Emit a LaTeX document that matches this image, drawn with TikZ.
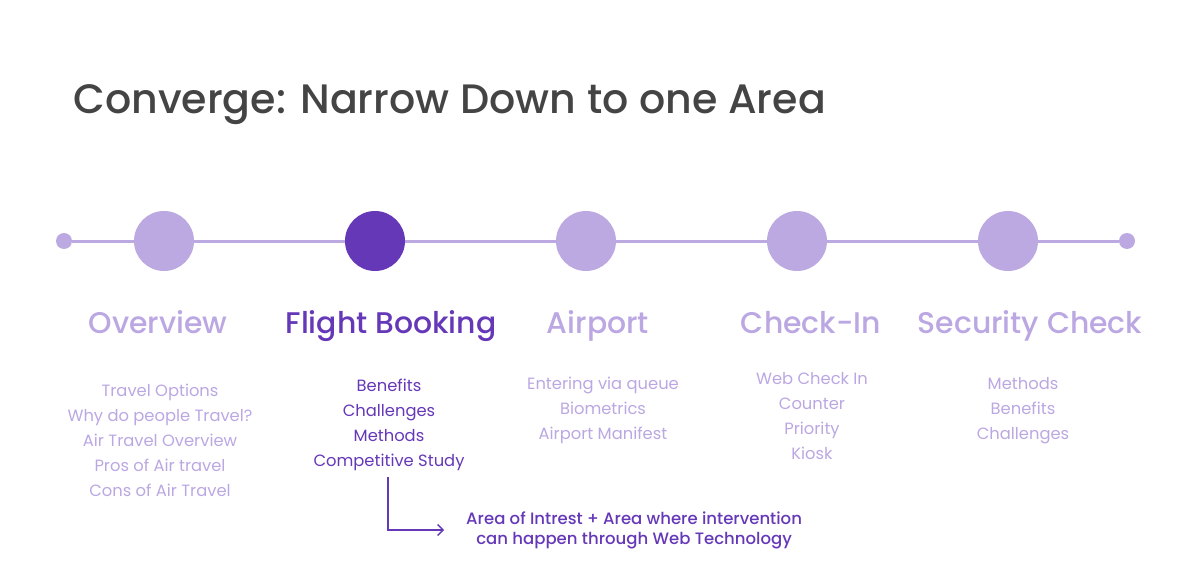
\documentclass[tikz,border=0pt]{standalone}
\usepackage{fontspec}
\setmainfont{Poppins}
\newfontfamily\medfont{Poppins Medium}
\usetikzlibrary{arrows.meta}

\definecolor{lilac}{HTML}{BCA9E1}
\definecolor{lilactext}{HTML}{BBA7E2}
\definecolor{grape}{HTML}{6538B8}
\definecolor{titlegray}{HTML}{444444}

\tikzset{
  stage/.style={circle, fill=lilac, minimum size=60*0.02cm, inner sep=0pt},
  stagedot/.style={circle, fill=lilac, minimum size=16*0.02cm, inner sep=0pt},
  heading/.style={text=lilactext, font=\medfont\fontsize{17}{20}\selectfont, anchor=base},
  items/.style={text=lilactext, font=\fontsize{9.3}{14.2}\selectfont, align=center, anchor=north},
}

\begin{document}
\begin{tikzpicture}[x=0.02cm, y=-0.02cm, >=Straight Barb]
  \useasboundingbox (0,0) rectangle (1191,581);

  % Title
  \node[anchor=base west, text=titlegray, font=\medfont\fontsize{23.4}{28}\selectfont, inner sep=0pt] (title) at (73,114) {Converge: Narrow Down to one Area};

  % Timeline
  \node[stagedot] (start) at (64,241) {};
  \node[stagedot] (end) at (1127,241) {};
  \draw[lilac, line width=3*0.02cm] (start) -- (end);

  \node[stage] (overview) at (164,241) {};
  \node[stage, fill=grape] (booking) at (375,241) {};
  \node[stage] (airport) at (586,241) {};
  \node[stage] (checkin) at (797,241) {};
  \node[stage] (security) at (1008,241) {};

  % Stage headings
  \node[heading] (overviewh) at (158,333) {Overview};
  \node[heading, text=grape] (bookingh) at (391,333) {Flight Booking};
  \node[heading] (airporth) at (598,333) {Airport};
  \node[heading] (checkinh) at (811,333) {Check-In};
  \node[heading] (securityh) at (1030,333) {Security Check};

  % Stage topics
  \node[items] (overviewl) at (160,378) {Travel Options\\Why do people Travel?\\Air Travel Overview\\Pros of Air travel\\Cons of Air Travel};
  \node[items, text=grape] (bookingl) at (389,373) {Benefits\\Challenges\\Methods\\Competitive Study};
  \node[items] (airportl) at (603,371) {Entering via queue\\Biometrics\\Airport Manifest};
  \node[items] (checkinl) at (812,366) {Web Check In\\Counter\\Priority\\Kiosk};
  \node[items] (securityl) at (1023,371) {Methods\\Benefits\\Challenges};

  % Focus note
  \node[text=grape, font=\medfont\fontsize{9.4}{11.4}\selectfont, align=center, anchor=west] (note) at (460,530) {Area of Intrest + Area where intervention\\can happen through Web Technology};
  \coordinate (bend) at (388,477);
  \draw[->, grape, line width=1.4*0.02cm, shorten >=16*0.02cm] (bend) |- (note.west);
\end{tikzpicture}
\end{document}
